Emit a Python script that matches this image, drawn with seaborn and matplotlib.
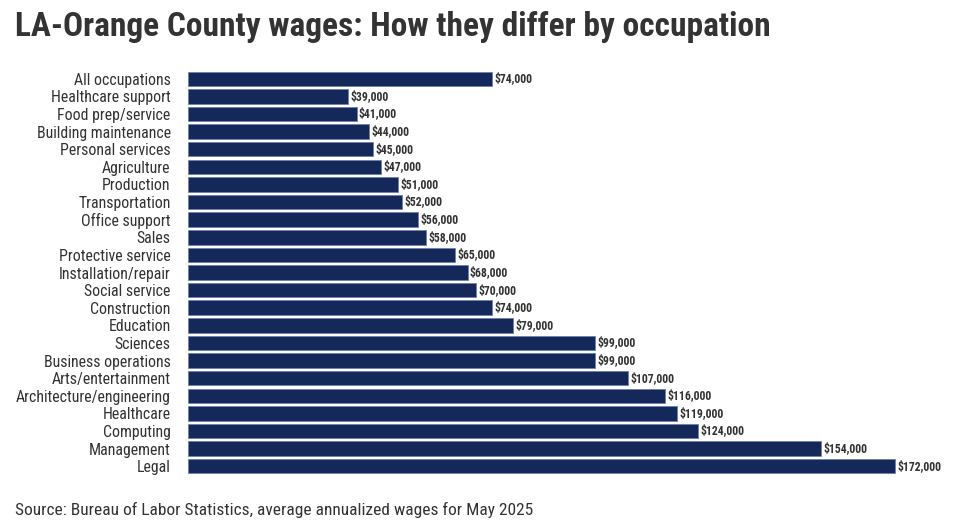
import matplotlib
matplotlib.use("Agg")
import matplotlib.pyplot as plt
from matplotlib import font_manager
import seaborn as sns
import pandas as pd

occupations = ["All occupations", "Healthcare support", "Food prep/service", "Building maintenance",
               "Personal services", "Agriculture", "Production", "Transportation", "Office support",
               "Sales", "Protective service", "Installation/repair", "Social service", "Construction",
               "Education", "Sciences", "Business operations", "Arts/entertainment",
               "Architecture/engineering", "Healthcare", "Computing", "Management", "Legal"]
wages = [74000, 39000, 41000, 44000, 45000, 47000, 51000, 52000, 56000, 58000, 65000, 68000,
         70000, 74000, 79000, 99000, 99000, 107000, 116000, 119000, 124000, 154000, 172000]

title = "LA-Orange County wages: How they differ by occupation"
source = "Source: Bureau of Labor Statistics, average annualized wages for May 2025"

names = sorted({f.name for f in font_manager.fontManager.ttflist})
cond = [n for n in names if "Condensed" in n or "Narrow" in n]
pref = [n for n in cond if "Roboto" in n] + [n for n in cond if "Roboto" not in n]
family = pref[0] if pref else "Roboto"

sns.set_theme(style="white")
plt.rcParams['font.family'] = [family, 'DejaVu Sans']

df = pd.DataFrame({"occ": occupations, "wage": wages})

fig = plt.figure(figsize=(9.62, 5.21), dpi=100)
ax = fig.add_axes([188/962, 1 - 475/521, (962-188)/962, (475-70)/521])
sns.barplot(data=df, x="wage", y="occ", color="#14285a", saturation=1, width=0.82,
            edgecolor="#6f7fa8", linewidth=0.6, ax=ax)
ax.set_xlim(0, 172000 * 774 / 707)
ax.set_ylim(len(occupations) - 0.5, -0.5)
for i, v in enumerate(wages):
    ax.text(v + 600, i, f"${v:,.0f}", va="center", ha="left", fontsize=8.5,
            fontweight="bold", color="#333333")
ax.set_xlabel("")
ax.set_ylabel("")
ax.set_xticks([])
ax.tick_params(axis="y", length=0, pad=12.5, labelsize=11.4, labelcolor="#333333")
for s in ax.spines.values():
    s.set_visible(False)

fig.text(15/962, 1 - 27/521, title, fontsize=24, fontweight="bold", color="#333333",
         va="center", ha="left")
fig.text(15/962, 1 - 510/521, source, fontsize=12.5, color="#333333", va="center", ha="left")
fig.savefig("out.png", dpi=100)
